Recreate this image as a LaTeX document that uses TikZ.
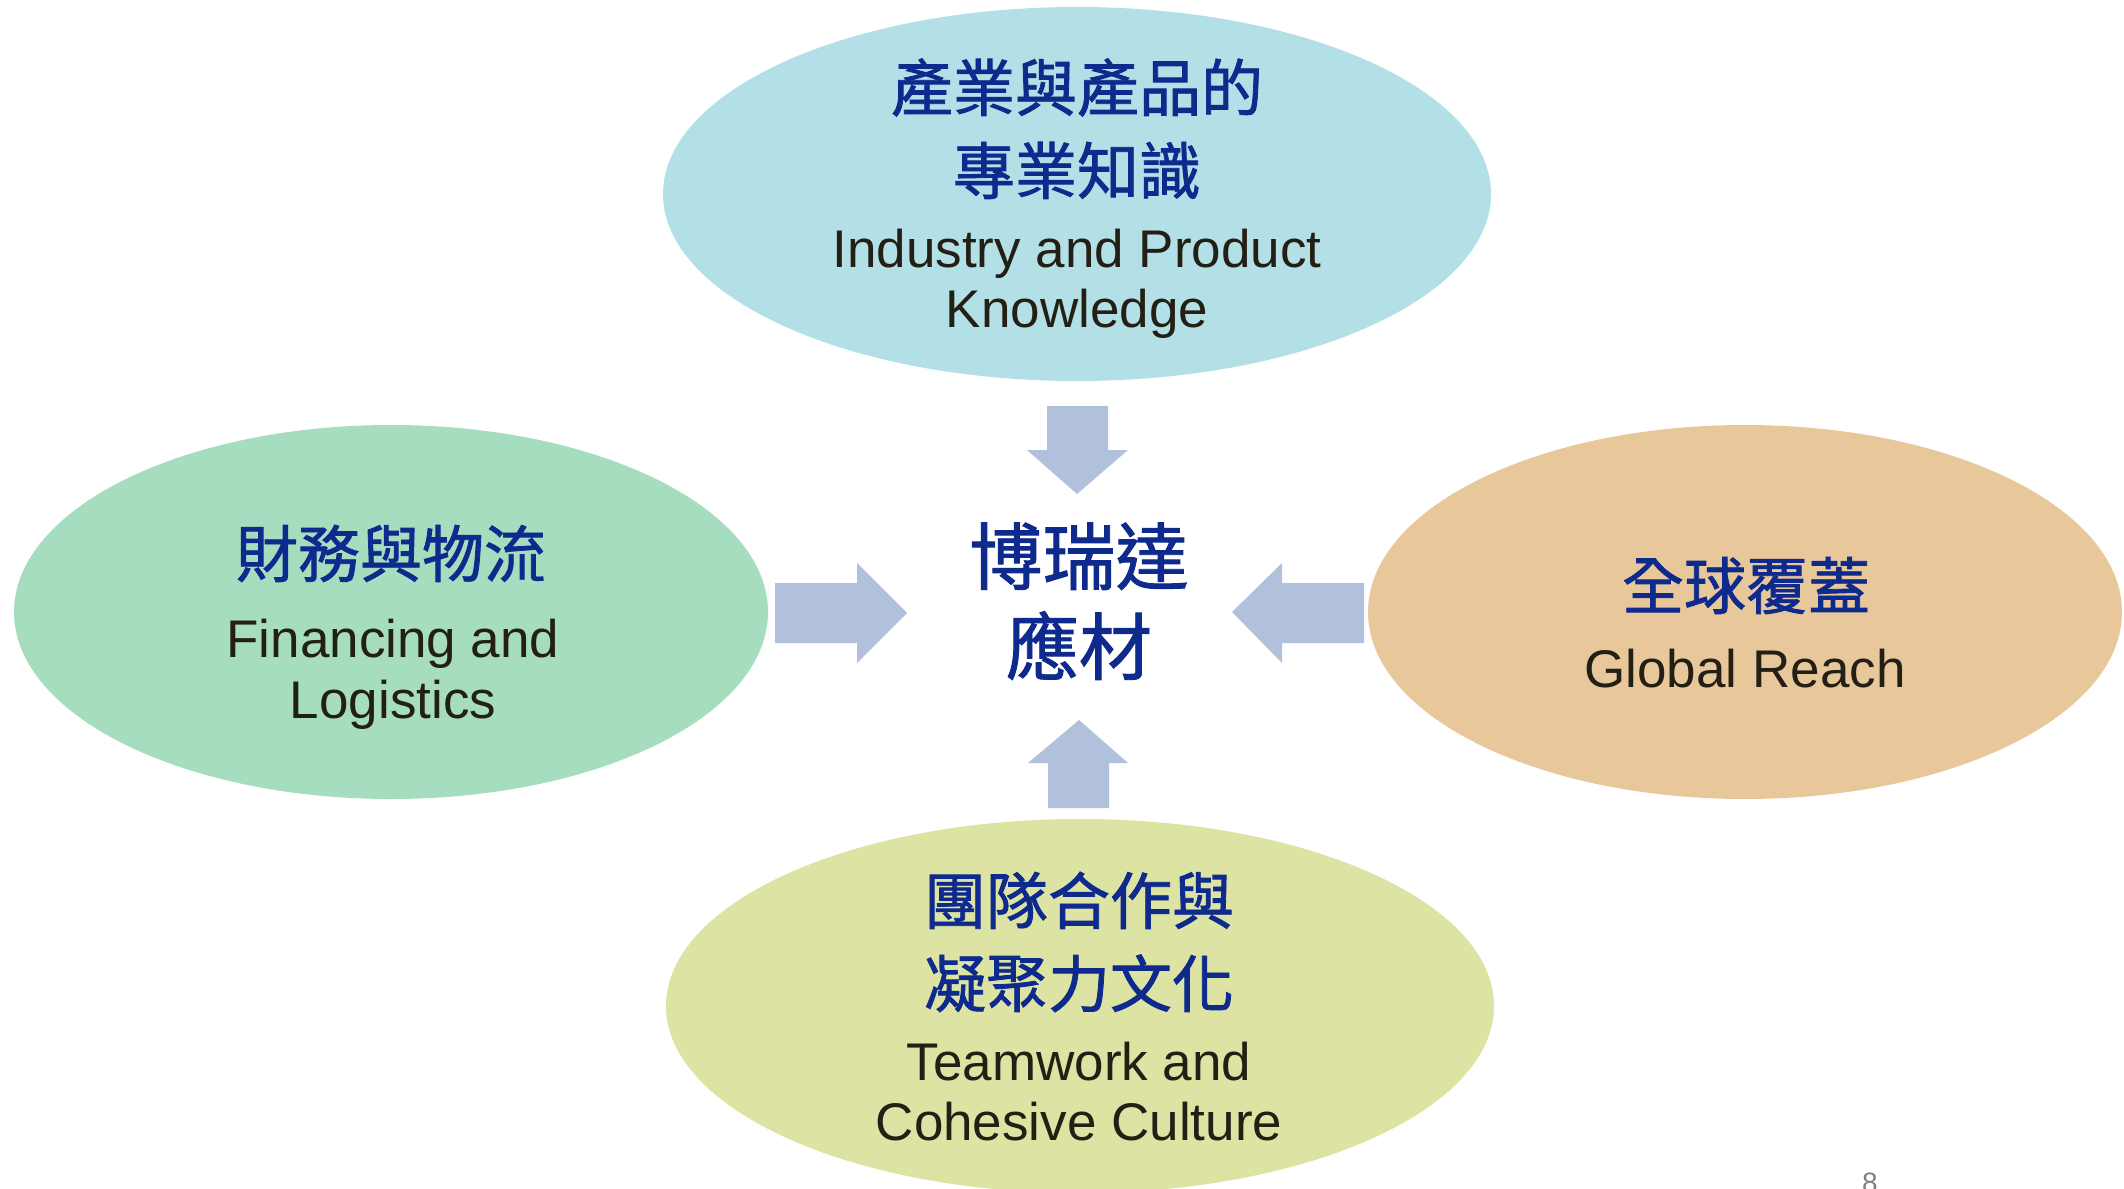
\documentclass[tikz,border=0pt]{standalone}
\usepackage{fontspec}
\setmainfont{Liberation Sans}
\newfontfamily\cjk[FakeBold=1.3]{Noto Sans CJK TC}
\usetikzlibrary{shapes.geometric}
\definecolor{ctop}{HTML}{B3DFE6}
\definecolor{cleft}{HTML}{A6DDBE}
\definecolor{cright}{HTML}{E8C89B}
\definecolor{cbot}{HTML}{DCE3A3}
\definecolor{carrow}{HTML}{B2C1DB}
\definecolor{cblue}{HTML}{0E2A8C}
\definecolor{ctext}{HTML}{231F14}
\tikzset{
  blob/.style={ellipse, draw=none, inner sep=0pt},
  bigoval/.style={blob, minimum width=828pt, minimum height=374pt},
  sideoval/.style={blob, minimum width=754pt, minimum height=374pt},
  zh/.style={anchor=base, inner sep=0pt, text=cblue, font=\cjk\fontsize{62}{62}\selectfont},
  zhbig/.style={anchor=base, inner sep=0pt, text=cblue, font=\cjk\fontsize{73}{73}\selectfont},
  en/.style={anchor=base, inner sep=0pt, text=ctext, font=\fontsize{53}{53}\selectfont},
  fatarrow/.style={fill=carrow, draw=none}
}
\begin{document}
\begin{tikzpicture}[x=1pt,y=-1pt]
\useasboundingbox[fill=white] (0,0) rectangle (2124,1188);
% ovals
\node[bigoval, fill=ctop] (top) at (1077,194) {};
\node[sideoval, fill=cleft] (left) at (391,612) {};
\node[sideoval, fill=cright] (right) at (1745,612) {};
\node[bigoval, fill=cbot] (bot) at (1080,1006) {};
% top texts
\node[zh] (t1) at (1077,111) {產業與產品的};
\node[zh] (t2) at (1077,194) {專業知識};
\node[en] (t3) at (1077,267) {Industry and Product};
\node[en] (t4) at (1077,327) {Knowledge};
% left texts
\node[zh] (l1) at (391,577) {財務與物流};
\node[en] (l2) at (393,657) {Financing and};
\node[en] (l3) at (393,718) {Logistics};
% right texts
\node[zh] (r1) at (1746,609) {全球覆蓋};
\node[en] (r2) at (1745,687) {Global Reach};
% bottom texts
\node[zh] (b1) at (1079,924) {團隊合作與};
\node[zh] (b2) at (1079,1007) {凝聚力文化};
\node[en] (b3) at (1079,1080) {Teamwork and};
\node[en] (b4) at (1079,1140) {Cohesive Culture};
% center
\node[zhbig] (c1) at (1079,584) {博瑞達};
\node[zhbig] (c2) at (1079,674) {應材};
% arrows
\fill[fatarrow] (1047,406) -- (1108,406) -- (1108,450) -- (1128,450) -- (1077,494) -- (1027,450) -- (1047,450) -- cycle;
\fill[fatarrow] (775,583) -- (857,583) -- (857,563) -- (907,613) -- (857,663) -- (857,643) -- (775,643) -- cycle;
\fill[fatarrow] (1364,583) -- (1282,583) -- (1282,563) -- (1232,612) -- (1282,663) -- (1282,643) -- (1364,643) -- cycle;
\fill[fatarrow] (1048,808) -- (1109,808) -- (1109,763) -- (1128,763) -- (1079,720) -- (1028,763) -- (1048,763) -- cycle;
% page number
\node[anchor=base, inner sep=0pt, text=black!50, font=\fontsize{28}{28}\selectfont] (pg) at (1870,1192) {8};
\end{tikzpicture}
\end{document}
